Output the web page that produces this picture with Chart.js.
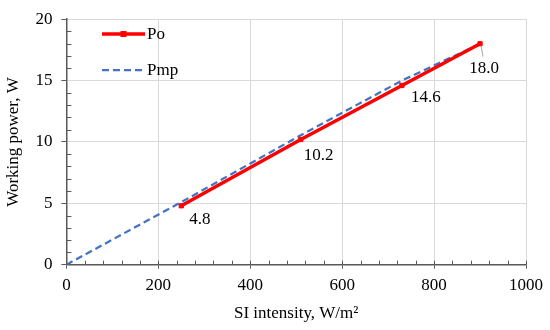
<!DOCTYPE html>
<html>
<head>
<meta charset="utf-8">
<script src="https://cdn.jsdelivr.net/npm/chart.js@4/dist/chart.umd.min.js"></script>
<style>
html,body{margin:0;padding:0;background:#fff;}
#wrap{width:550px;height:330px;position:relative;}
</style>
</head>
<body>
<div id="wrap"><canvas id="c" width="550" height="330"></canvas></div>
<script>
// Data
const intensityPo = [250, 510, 730, 900];
const powerPo = [4.8, 10.2, 14.6, 18.0];
const intensityPmp = [0, 250, 510, 730, 900];
const powerPmp = [0, 5.1, 10.55, 15.0, 18.0];
const seriesNames = ['Po', 'Pmp'];
const xTitle = 'SI intensity, W/m²';
const yTitle = 'Working power, W';

const FONT = "'Liberation Serif', 'Times New Roman', serif";
const AXIS = '#595959';
const GRID = '#d9d9d9';

const toPts = (xs, ys) => xs.map((x, i) => ({x: x, y: ys[i]}));

// data labels plugin (offsets in px relative to point)
const labelOffsets = [[8, 14, 'left'], [3, 16, 'left'], [9, 12, 'left'], [4, 25, 'center']];
const dataLabels = {
  id: 'dataLabels',
  afterDatasetsDraw(chart) {
    const ctx = chart.ctx;
    const meta = chart.getDatasetMeta(0);
    ctx.save();
    ctx.font = '17px ' + FONT;
    ctx.fillStyle = '#000';
    ctx.textBaseline = 'middle';
    meta.data.forEach((el, i) => {
      const o = labelOffsets[i];
      const v = powerPo[i].toFixed(1);
      if (i === meta.data.length - 1) {
        ctx.strokeStyle = '#a6a6a6';
        ctx.lineWidth = 1;
        ctx.beginPath();
        ctx.moveTo(el.x + 1, el.y + 2);
        ctx.lineTo(el.x + 3, el.y + 13);
        ctx.stroke();
      }
      ctx.textAlign = o[2];
      ctx.fillText(v, el.x + o[0], el.y + o[1]);
    });
    ctx.restore();
  }
};

// minor / inner ticks
const innerTicks = {
  id: 'innerTicks',
  afterDraw(chart) {
    const ctx = chart.ctx;
    const xs = chart.scales.x, ys = chart.scales.y;
    const ca = chart.chartArea;
    ctx.save();
    ctx.strokeStyle = AXIS;
    ctx.lineWidth = 1;
    ctx.beginPath();
    for (let v = 0; v <= 1000; v += 40) {
      const px = Math.round(xs.getPixelForValue(v)) + 0.5;
      ctx.moveTo(px, ca.bottom);
      ctx.lineTo(px, ca.bottom - 4);
    }
    for (let v = 0; v <= 20; v += 1) {
      if (v % 5 === 0) continue;
      const py = Math.round(ys.getPixelForValue(v)) + 0.5;
      ctx.moveTo(ca.left, py);
      ctx.lineTo(ca.left + 5, py);
    }
    ctx.stroke();
    ctx.restore();
  }
};

// legend plugin
const legendInside = {
  id: 'legendInside',
  afterDraw(chart) {
    const ctx = chart.ctx;
    const ds = chart.data.datasets;
    const x0 = 102, x1 = 145;
    const rows = [34, 70];
    ctx.save();
    ds.forEach((d, i) => {
      const y = rows[i];
      ctx.strokeStyle = d.borderColor;
      ctx.lineWidth = d.borderWidth;
      ctx.setLineDash(d.borderDash || []);
      ctx.beginPath();
      ctx.moveTo(x0, y);
      ctx.lineTo(x1, y);
      ctx.stroke();
      ctx.setLineDash([]);
      if (d.pointRadius > 0) {
        ctx.fillStyle = d.pointBackgroundColor;
        const r = d.pointRadius;
        ctx.fillRect((x0 + x1) / 2 - r, y - r, 2 * r, 2 * r);
      }
      ctx.fillStyle = '#000';
      ctx.font = '17px ' + FONT;
      ctx.textBaseline = 'middle';
      ctx.textAlign = 'left';
      ctx.fillText(d.label, x1 + 2, y + 1);
    });
    ctx.restore();
  }
};

new Chart(document.getElementById('c'), {
  type: 'line',
  data: {
    datasets: [
      {
        label: seriesNames[0],
        data: toPts(intensityPo, powerPo),
        borderColor: '#ff0000',
        backgroundColor: '#ff0000',
        borderWidth: 3.5,
        pointStyle: 'rect',
        pointRadius: 3,
        pointBackgroundColor: '#ff0000',
        pointBorderColor: '#ff0000',
        pointBorderWidth: 1,
        tension: 0,
        order: 1
      },
      {
        label: seriesNames[1],
        data: toPts(intensityPmp, powerPmp),
        borderColor: '#4472c4',
        backgroundColor: '#4472c4',
        borderWidth: 2.25,
        borderDash: [7, 4],
        pointRadius: 0,
        tension: 0,
        order: 2
      }
    ]
  },
  options: {
    responsive: false,
    animation: false,
    devicePixelRatio: 1,
    layout: { padding: { top: 12.7, right: 22.7, left: 0, bottom: 0 } },
    plugins: { legend: { display: false }, tooltip: { enabled: false } },
    scales: {
      x: {
        type: 'linear',
        min: 0, max: 1000,
        ticks: { stepSize: 200, color: '#000', font: { family: FONT, size: 17 }, padding: 7, maxRotation: 0,
                 callback: (v) => String(v) },
        grid: { color: GRID, lineWidth: 1, tickColor: AXIS, tickLength: 4, drawTicks: true },
        border: { color: AXIS, width: 1.5 },
        title: { display: true, text: xTitle, color: '#000', font: { family: FONT, size: 17 }, padding: { top: 0, bottom: 6 } },
        afterFit(s) { s.height = 65.3; }
      },
      y: {
        min: 0, max: 20,
        ticks: { stepSize: 5, color: '#000', font: { family: FONT, size: 17 }, padding: 9 },
        grid: { color: GRID, lineWidth: 1, tickColor: AXIS, tickLength: 5 },
        border: { color: AXIS, width: 1.5 },
        title: { display: true, text: yTitle, color: '#000', font: { family: FONT, size: 17 }, padding: { top: 3, bottom: 0 } },
        afterFit(s) { s.width = 66.4; }
      }
    }
  },
  plugins: [dataLabels, innerTicks, legendInside]
});
</script>
</body>
</html>
